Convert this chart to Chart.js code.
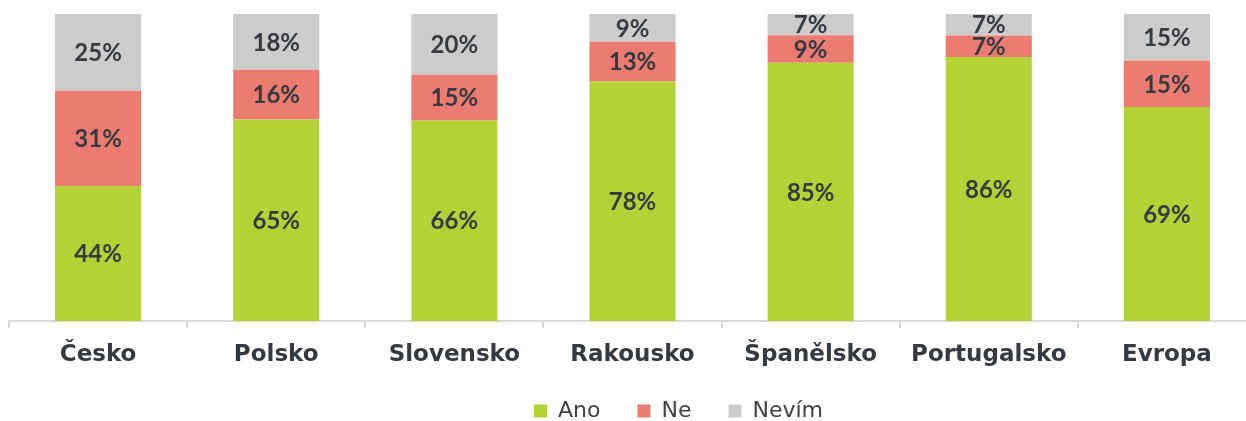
<!DOCTYPE html>
<html>
<head>
<meta charset="utf-8">
<script src="https://cdn.jsdelivr.net/npm/chart.js@4"></script>
<style>
  html, body { margin: 0; padding: 0; background: #fff; overflow: hidden; }
  #chart { display: block; }
</style>
</head>
<body>
<canvas id="chart" width="1260" height="421"></canvas>
<script>
// survey answers per country (shown labels, in %)
const countries = ["Česko", "Polsko", "Slovensko", "Rakousko", "Španělsko", "Portugalsko", "Evropa"];
const ano = [44, 65, 66, 78, 85, 86, 69];
const ne = [31, 16, 15, 13, 9, 7, 15];
const nevim = [25, 18, 20, 9, 7, 7, 15];

const seriesNames = ["Ano", "Ne", "Nevím"];
const seriesColors = ["#b3d235", "#ec7b72", "#cccccc"];
const textColor = "#343a40";

// bars are drawn as 100 % stacks, labels keep the rounded values
const totals = countries.map((c, i) => ano[i] + ne[i] + nevim[i]);
const share = arr => arr.map((v, i) => v / totals[i] * 100);

const rawSeries = [ano, ne, nevim];

const segmentLabels = {
  id: "segmentLabels",
  afterDatasetsDraw(chart) {
    const ctx = chart.ctx;
    ctx.save();
    ctx.font = "bold 24px Lato";
    ctx.fillStyle = textColor;
    ctx.textAlign = "center";
    ctx.textBaseline = "middle";
    chart.data.datasets.forEach((ds, di) => {
      const meta = chart.getDatasetMeta(di);
      meta.data.forEach((bar, i) => {
        const y = (bar.y + bar.base) / 2;
        ctx.fillText(rawSeries[di][i] + "%", bar.x, y + 1);
      });
    });
    ctx.restore();
  }
};

// the legend sits a bit right of centre and close to the bottom edge
const legendShift = {
  id: "legendShift",
  afterLayout(chart) {
    const lg = chart.legend;
    lg.left += 46;
    lg.right += 46;
    lg.top -= 20;
    lg.bottom -= 20;
  }
};

new Chart(document.getElementById("chart"), {
  type: "bar",
  data: {
    labels: countries,
    datasets: rawSeries.map((arr, i) => ({
      label: seriesNames[i],
      data: share(arr),
      backgroundColor: seriesColors[i],
      borderWidth: 0,
      categoryPercentage: 1,
      barPercentage: 0.483
    }))
  },
  options: {
    responsive: false,
    animation: false,
    layout: { padding: { left: 9, right: 4, top: 14, bottom: -31 } },
    scales: {
      x: {
        stacked: true,
        grid: {
          drawOnChartArea: false,
          drawTicks: true,
          tickLength: 7,
          color: "#d9d9d9",
          lineWidth: 2
        },
        border: { color: "#d9d9d9", width: 2 },
        ticks: {
          color: textColor,
          font: { family: "DejaVu Sans", size: 23, weight: "bold", lineHeight: 1 },
          padding: 16
        }
      },
      y: {
        stacked: true,
        display: false,
        min: 0,
        max: 100
      }
    },
    plugins: {
      legend: {
        position: "bottom",
        labels: {
          color: "#404040",
          font: { family: "DejaVu Sans", size: 22, lineHeight: 1 },
          boxWidth: 13,
          boxHeight: 13,
          padding: 37
        }
      },
      tooltip: { enabled: false }
    }
  },
  plugins: [segmentLabels, legendShift]
});
</script>
</body>
</html>
